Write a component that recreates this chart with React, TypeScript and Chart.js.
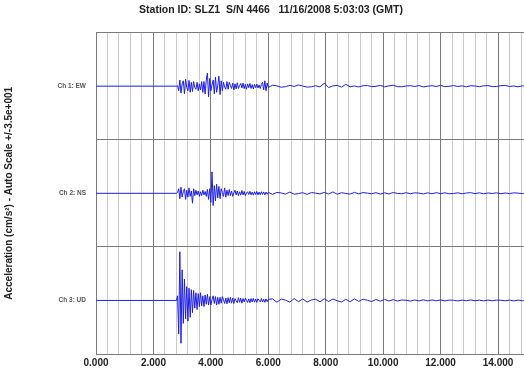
import { useEffect, useRef } from 'react';
import { Chart, registerables } from 'chart.js';

Chart.register(...registerables);

const TITLE = 'Station ID: SLZ1  S/N 4466   11/16/2008 5:03:03 (GMT)';
const Y_TITLE = 'Acceleration (cm/s\u00b2) - Auto Scale +/-3.5e+001';
const CHANNEL_LABELS = ['Ch 1: EW', 'Ch 2: NS', 'Ch 3: UD'];
const AUTO_SCALE = 35; // cm/s^2, half height of each channel panel
const X_MIN = 0;
const X_MAX = 14.9;
const X_MAJOR_STEP = 2;
const X_MINOR_STEP = 0.4;

// record timing (seconds)
const PRE_EVENT_START = 0;
const ACTIVE_T0 = 2.8;
const ACTIVE_DT = 0.04;
const TAIL_T0 = 6.15;
const TAIL_DT = 0.15;

// Ch 1: EW (cm/s^2)
const EW_ACTIVE = [
  0, 0.3, -3, 4, -4.5, 1.5, 3.5, -5, 4.5, -1,
  -3, 3.8, -4, 2.5, -3.5, 3, -1, -2, 2.5, -3,
  1.5, -2.5, 3, -4, 3, -5, 4, 8.5, -7, 5,
  -3, 1, 4, -5, 6, -4, 0.5, 6.5, -5.5, 3.5,
  -3, 2.5, -0.5, -2, 3, -2, 2.5, 0.5, -1.5, 2,
  -2.5, 1.5, -1.8, 2.2, -1.5, 0.3, 1.8, -1.2, 2, -1.6,
  1.2, -2, 1.5, -1, 1.8, -1.5, 1, -1.8, 1.2, -1,
  1.4, -1.2, 0.8, -1.5, 1.2, 2.5, -2.5, 3.5, -3, 2,
  -0.8,
];
const EW_TAIL = [
  0.6, 0.2, -0.7, -0.3, 0.5, -0.2, 0.8, 0.1, -0.6, -0.4,
  0.3, -0.5, 2.0, -0.9, 0.2, 0.5, -0.6, 1.2, -0.4, 0.1,
  -0.5, 0.3, 0.4, -0.3, -0.1, 0.5, -0.4, 0.2, 0.6, -0.3,
  -0.4, 0.1, 0.3, -0.2, 0.4, -0.5, 0.0, 0.3, -0.2, 0.5,
  -0.3, -0.1, 0.4, -0.2, 0.2, -0.4, 0.3, 0.1, -0.3, 0.2,
  0.4, -0.3, -0.2, 0.3, 0.5, -0.2, 0.1, -0.4, 0.2, -0.1,
];

// Ch 2: NS (cm/s^2)
const NS_ACTIVE = [
  0, 0.5, 3, -3.5, 4, -2.5, 1, 3, -4, 2,
  -2.5, 3.5, -2, 1.5, -6.5, 3, -1.5, 2, -1, 1.5,
  -2, 1, -1.5, 2, -1, 1.2, -2, 2.5, -4, 3,
  -6, 14, -8, 5, -5, 6, -3, 4.5, -3.5, 3,
  0.5, -2, 3.5, -2.5, 2, -1.5, 2.5, -1.5, 1.5, -2,
  0.2, 2, -1, 1.5, -1.5, 1, -1.2, 1.8, -1, 1.2,
  -1.5, 0.2, 1, -0.8, 1.3, -1, 0.8, -1.2, 1, -0.8,
  1.2, -1, 0.8, -1, 1, -0.7, 0.9, -1, 0.8, -0.6,
  0.6,
];
const NS_TAIL = [
  -0.7, 0.6, 0.2, -0.5, 0.8, -0.6, -0.2, 0.4, -0.7, 0.5,
  0.1, -0.4, 0.6, -0.5, 0.9, -0.6, 0.4, -0.1, -0.5, 0.6,
  -0.4, 0.5, 0.1, -0.3, 0.4, -0.5, 0.3, -0.4, 0.5, -0.1,
  -0.3, 0.4, -0.3, 0.3, 0.1, -0.4, 0.3, -0.3, 0.4, -0.2,
  0.3, -0.3, -0.1, 0.3, -0.3, 0.2, 0.4, -0.2, 0.3, -0.3,
  0.2, -0.1, 0.3, -0.3, 0.2, -0.2, 0.3, 0.1, -0.2, 0.2,
];

// Ch 3: UD (cm/s^2)
const UD_ACTIVE = [
  0, 3, -22, 31.8, -28, 20, -15, 14, -12, 9,
  -13.5, 8, -11, 7, -8, 6.5, -5, 5, -6, 4.5,
  -4, 5, -3.5, 3, -4, 3.5, -2.5, 4, -3, 2.5,
  -3, 0.5, 3, -2, 2.5, -3, 2, -2.5, 2, -1.8,
  2.5, 0.4, -2, 1.5, -2.2, 1.8, -1.5, 2, -1.8, 1.5,
  -2, 1.2, -0.2, -1.5, 1.8, -1.2, 1.5, -1.8, 1.2, -1,
  1.5, 0.2, -1.3, 1, -1.5, 1.2, -1, 1.4, -1.1, 0.9,
  -1.3, 1.1, 0.1, -0.9, 1.2, -1, 0.8, -1.2, 1, -0.8,
  0.7,
];
const UD_TAIL = [
  1.0, -1.2, 0.9, 0.2, -1.1, 1.2, -0.8, 1.0, -1.1, 0.3,
  0.8, -0.9, 1.1, -0.7, 0.9, -0.2, -1.0, 0.7, -0.8, 1.0,
  -0.6, 0.8, 0.1, -0.7, 0.6, -0.5, 0.7, -0.4, 0.5, -0.4,
  0.3, 0.1, -0.4, 0.3, -0.3, 0.4, -0.3, 0.3, -0.2, 0.3,
  -0.3, 0.2, 0.1, -0.3, 0.2, -0.2, 0.3, -0.2, 0.2, -0.3,
  0.2, -0.2, 0.2, 0.1, -0.2, 0.2, -0.3, 0.2, -0.2, 0.2,
];

const CHANNELS = [
  { label: CHANNEL_LABELS[0], active: EW_ACTIVE, tail: EW_TAIL },
  { label: CHANNEL_LABELS[1], active: NS_ACTIVE, tail: NS_TAIL },
  { label: CHANNEL_LABELS[2], active: UD_ACTIVE, tail: UD_TAIL },
];

const TRACE_COLOR = 'rgb(30, 30, 228)';
const MAJOR_GRID = '#7a7a7a';
const MINOR_GRID = '#cacaca';
const FONT = "'Liberation Sans', Arial, sans-serif";
const TITLE_LEFT_INSET = 18;

function buildSeries(active: number[], tail: number[], offset: number) {
  const pts: { x: number; y: number }[] = [{ x: PRE_EVENT_START, y: offset }];
  active.forEach((v, i) => pts.push({ x: ACTIVE_T0 + i * ACTIVE_DT, y: offset + v }));
  tail.forEach((v, i) => pts.push({ x: TAIL_T0 + i * TAIL_DT, y: offset + v }));
  return pts;
}

const titleInsetPlugin = {
  id: 'titleInset',
  afterLayout(chart: any) {
    if (chart.titleBlock) chart.titleBlock.left = chart.titleBlock.left + TITLE_LEFT_INSET;
  },
};

export default function App() {
  const ref = useRef<HTMLCanvasElement | null>(null);

  useEffect(() => {
    if (!ref.current) return;
    const n = CHANNELS.length;
    const yMax = n * AUTO_SCALE;
    const yMin = -n * AUTO_SCALE;
    const offsets = CHANNELS.map((_, i) => yMax - AUTO_SCALE - i * 2 * AUTO_SCALE);

    const datasets = CHANNELS.map((c, i) => ({
      label: c.label,
      data: buildSeries(c.active, c.tail, offsets[i]),
      borderColor: TRACE_COLOR,
      borderWidth: 1,
      pointRadius: 0,
      tension: 0,
      fill: false,
    }));

    const chart = new Chart(ref.current, {
      type: 'line',
      data: { datasets },
      plugins: [titleInsetPlugin],
      options: {
        animation: false,
        responsive: false,
        maintainAspectRatio: false,
        parsing: false,
        layout: { padding: { left: 0, right: 0, top: 0, bottom: 0 } },
        plugins: {
          legend: { display: false },
          tooltip: { enabled: false },
          title: {
            display: true,
            text: TITLE,
            color: '#222',
            font: { family: FONT, size: 10.5, weight: 'bold' },
            padding: { top: 4, bottom: 16 },
          },
        },
        scales: {
          x: {
            type: 'linear',
            min: X_MIN,
            max: X_MAX,
            afterBuildTicks: (scale: any) => {
              const ticks = [];
              const count = Math.floor((X_MAX - X_MIN) / X_MINOR_STEP + 1e-6);
              for (let i = 0; i <= count; i++) {
                ticks.push({ value: Math.round((X_MIN + i * X_MINOR_STEP) * 10) / 10 });
              }
              scale.ticks = ticks;
            },
            grid: {
              drawTicks: false,
              color: (ctx: any) => {
                const v = ctx.tick ? ctx.tick.value : 0;
                return Math.abs(v / X_MAJOR_STEP - Math.round(v / X_MAJOR_STEP)) < 1e-6 ? MAJOR_GRID : MINOR_GRID;
              },
              lineWidth: 1,
            },
            border: { display: true, color: MAJOR_GRID },
            ticks: {
              autoSkip: false,
              maxRotation: 0,
              padding: 3,
              color: '#222',
              font: { family: FONT, size: 10, weight: 'bold' },
              callback: (v: any) => {
                const val = Number(v);
                return Math.abs(val / X_MAJOR_STEP - Math.round(val / X_MAJOR_STEP)) < 1e-6 ? val.toFixed(3) : '';
              },
            },
          },
          y: {
            type: 'linear',
            min: yMin,
            max: yMax,
            afterBuildTicks: (scale: any) => {
              const ticks = [];
              for (let v = yMin; v <= yMax + 1e-6; v += AUTO_SCALE) ticks.push({ value: v });
              scale.ticks = ticks;
            },
            afterFit: (scale: any) => {
              scale.width = 96;
            },
            grid: {
              drawTicks: false,
              color: (ctx: any) => {
                const v = ctx.tick ? ctx.tick.value : 0;
                const k = Math.round(v / AUTO_SCALE);
                return Math.abs(k) % 2 === 1 ? MAJOR_GRID : 'rgba(0,0,0,0)';
              },
              lineWidth: 1,
            },
            border: { display: true, color: MAJOR_GRID },
            title: {
              display: true,
              text: Y_TITLE,
              color: '#222',
              font: { family: FONT, size: 10, weight: 'bold' },
              padding: { top: 3, bottom: 0 },
            },
            ticks: {
              autoSkip: false,
              padding: 10,
              color: '#555',
              font: { family: FONT, size: 6.5, weight: 'bold' },
              callback: (v: any) => {
                const idx = offsets.findIndex((o) => Math.abs(o - Number(v)) < 1e-6);
                return idx >= 0 ? CHANNELS[idx].label : '';
              },
            },
          },
        },
      } as any,
    });
    return () => chart.destroy();
  }, []);

  return (
    <div style={{ position: 'fixed', left: 0, top: 0, width: 524, height: 372, background: '#fff' }}>
      <canvas ref={ref} width={524} height={372} style={{ display: 'block', width: 524, height: 372 }} />
    </div>
  );
}
